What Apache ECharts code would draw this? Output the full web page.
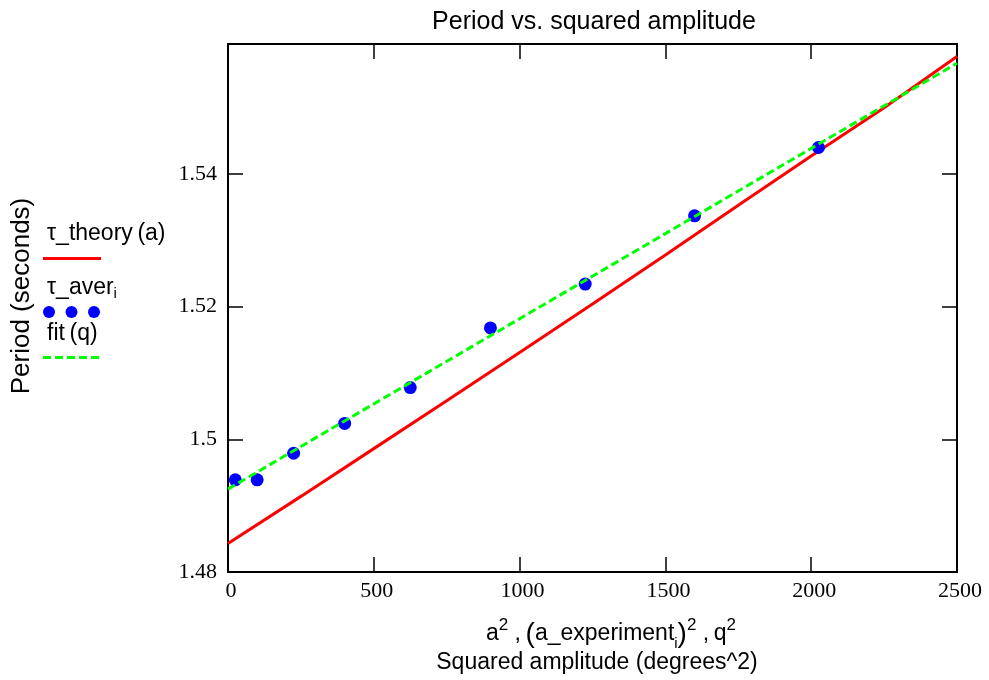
<!DOCTYPE html>
<html><head><meta charset="utf-8">
<script src="https://cdn.jsdelivr.net/npm/echarts@6/dist/echarts.min.js"></script>
<style>html,body{margin:0;padding:0;background:#fff}#c{width:989px;height:680px}</style>
</head><body><div id="c"></div>
<script>
// ---- data ----
const xTicks = [0, 500, 1000, 1500, 2000, 2500];
const yTicks = [1.48, 1.50, 1.52, 1.54];
const expX = [25, 100, 225, 400, 625, 900, 1225, 1600, 2025];
const expY = [1.4939, 1.4939, 1.4979, 1.5024, 1.5078, 1.5168, 1.5234, 1.5337, 1.5440];
const theoryX = [0, 250, 500, 750, 1000, 1250, 1500, 1750, 2000, 2250, 2500];
const theoryY = [1.4843, 1.4914, 1.4986, 1.5058, 1.5131, 1.5204, 1.5278, 1.5353, 1.5427, 1.5500, 1.5577];
const fitX = [0, 2500];
const fitY = [1.4925, 1.5567];
const titleText = 'Period vs. squared amplitude';
const yName = 'Period (seconds)';
const xName2 = 'Squared amplitude (degrees^2)';

const zip = (a, b) => a.map((v, i) => [v, b[i]]);
const SANS = '"Liberation Sans", Arial, sans-serif';
const SERIF = '"Liberation Serif", "Times New Roman", serif';

const xMin = xTicks[0], xMax = xTicks[xTicks.length - 1], xInt = xTicks[1] - xTicks[0];
const yMin = yTicks[0], yInt = +(yTicks[1] - yTicks[0]).toFixed(4), yMax = 1.5596;

function xAx(pos, show) {
  return {
    type: 'value', position: pos, min: xMin, max: xMax, interval: xInt,
    axisLine: { show: true, onZero: false, lineStyle: { color: '#000', width: 2 } },
    axisTick: { show: true, inside: true, length: 15, lineStyle: { color: '#000', width: 1.5 } },
    axisLabel: { show: show, color: '#000', fontFamily: SERIF, fontSize: 22, margin: 8, padding: [0, 0, 0, 6],
      formatter: v => String(v) },
    splitLine: { show: false }
  };
}
function yAx(pos, show) {
  return {
    type: 'value', position: pos, min: yMin, max: yMax, interval: yInt,
    axisLine: { show: true, onZero: false, lineStyle: { color: '#000', width: 2 } },
    axisTick: { show: true, inside: true, length: 15, lineStyle: { color: '#000', width: 1.5 } },
    axisLabel: { show: show, color: '#000', fontFamily: SERIF, fontSize: 22, margin: 11,
      showMaxLabel: false, formatter: v => String(+(+v).toFixed(3)) },
    splitLine: { show: false }
  };
}

const chart = echarts.init(document.getElementById('c'), null, { renderer: 'canvas' });
chart.setOption({
  backgroundColor: '#fff',
  animation: false,
  grid: { left: 228, right: 32, top: 44, bottom: 108, containLabel: false },
  xAxis: [xAx('bottom', true), xAx('top', false)],
  yAxis: [yAx('left', true), yAx('right', false)],
  series: [
    { type: 'line', name: 'theory', data: zip(theoryX, theoryY), showSymbol: false, symbol: 'none',
      lineStyle: { color: '#ff0000', width: 3 }, z: 2, clip: true },
    { type: 'scatter', name: 'aver', data: zip(expX, expY), symbol: 'circle', symbolSize: 13,
      itemStyle: { color: '#0000ff', opacity: 1 }, z: 3 },
    { type: 'line', name: 'fit', data: zip(fitX, fitY), showSymbol: false, symbol: 'none',
      lineStyle: { color: '#00ff00', width: 3, type: [8, 4] }, z: 4, clip: true }
  ],
  graphic: [
    { type: 'text', x: 594, y: 22,
      style: { text: titleText, font: '25px ' + SANS, fill: '#000', textAlign: 'center', textVerticalAlign: 'middle' } },
    { type: 'text', x: 22, y: 296, rotation: Math.PI / 2,
      style: { text: yName, font: '26px ' + SANS, fill: '#000', textAlign: 'center', textVerticalAlign: 'middle' } },
    { type: 'text', x: 611, y: 634,
      style: { rich: { b: { fontSize: 23, fontFamily: SANS, fill: '#000', lineHeight: 34, verticalAlign: 'middle' },
                       p: { fontSize: 28, fontFamily: SANS, fill: '#000', lineHeight: 34, verticalAlign: 'middle' },
                       sup: { fontSize: 17, fontFamily: SANS, fill: '#000', lineHeight: 34, verticalAlign: 'top' },
                       sub: { fontSize: 15, fontFamily: SANS, fill: '#000', lineHeight: 28, verticalAlign: 'bottom' } },
               text: '{b|a}{sup|2}{b| ,\u2009}{p|(}{b|a_experiment}{sub|i}{p|)}{sup|2}{b| ,\u2009q}{sup|2}',
               textAlign: 'center', textVerticalAlign: 'middle' } },
    { type: 'text', x: 597, y: 663,
      style: { text: xName2, font: '23px ' + SANS, fill: '#000', textAlign: 'center', textVerticalAlign: 'middle' } },
    // legend
    { type: 'text', x: 47, y: 234, style: { text: 'τ_theory\u2009(a)', font: '23px ' + SANS, fill: '#000', textVerticalAlign: 'middle' } },
    { type: 'line', shape: { x1: 43, y1: 258.5, x2: 101, y2: 258.5 }, style: { stroke: '#ff0000', lineWidth: 3 } },
    { type: 'text', x: 47, y: 288,
      style: { rich: { b: { fontSize: 23, fontFamily: SANS, fill: '#000', lineHeight: 26, verticalAlign: 'middle' },
                       sub: { fontSize: 15, fontFamily: SANS, fill: '#000', lineHeight: 26, verticalAlign: 'bottom' } },
               text: '{b|τ_aver}{sub|i}', textVerticalAlign: 'middle' } },
    { type: 'circle', shape: { cx: 49, cy: 312, r: 6 }, style: { fill: '#0000ff' } },
    { type: 'circle', shape: { cx: 71.5, cy: 312, r: 6 }, style: { fill: '#0000ff' } },
    { type: 'circle', shape: { cx: 94, cy: 312, r: 6 }, style: { fill: '#0000ff' } },
    { type: 'text', x: 47, y: 334, style: { text: 'fit\u2009(q)', font: '23px ' + SANS, fill: '#000', textVerticalAlign: 'middle' } },
    { type: 'line', shape: { x1: 43, y1: 357.5, x2: 101, y2: 357.5 }, style: { stroke: '#00ff00', lineWidth: 3, lineDash: [8, 4] } }
  ]
});
</script></body></html>
